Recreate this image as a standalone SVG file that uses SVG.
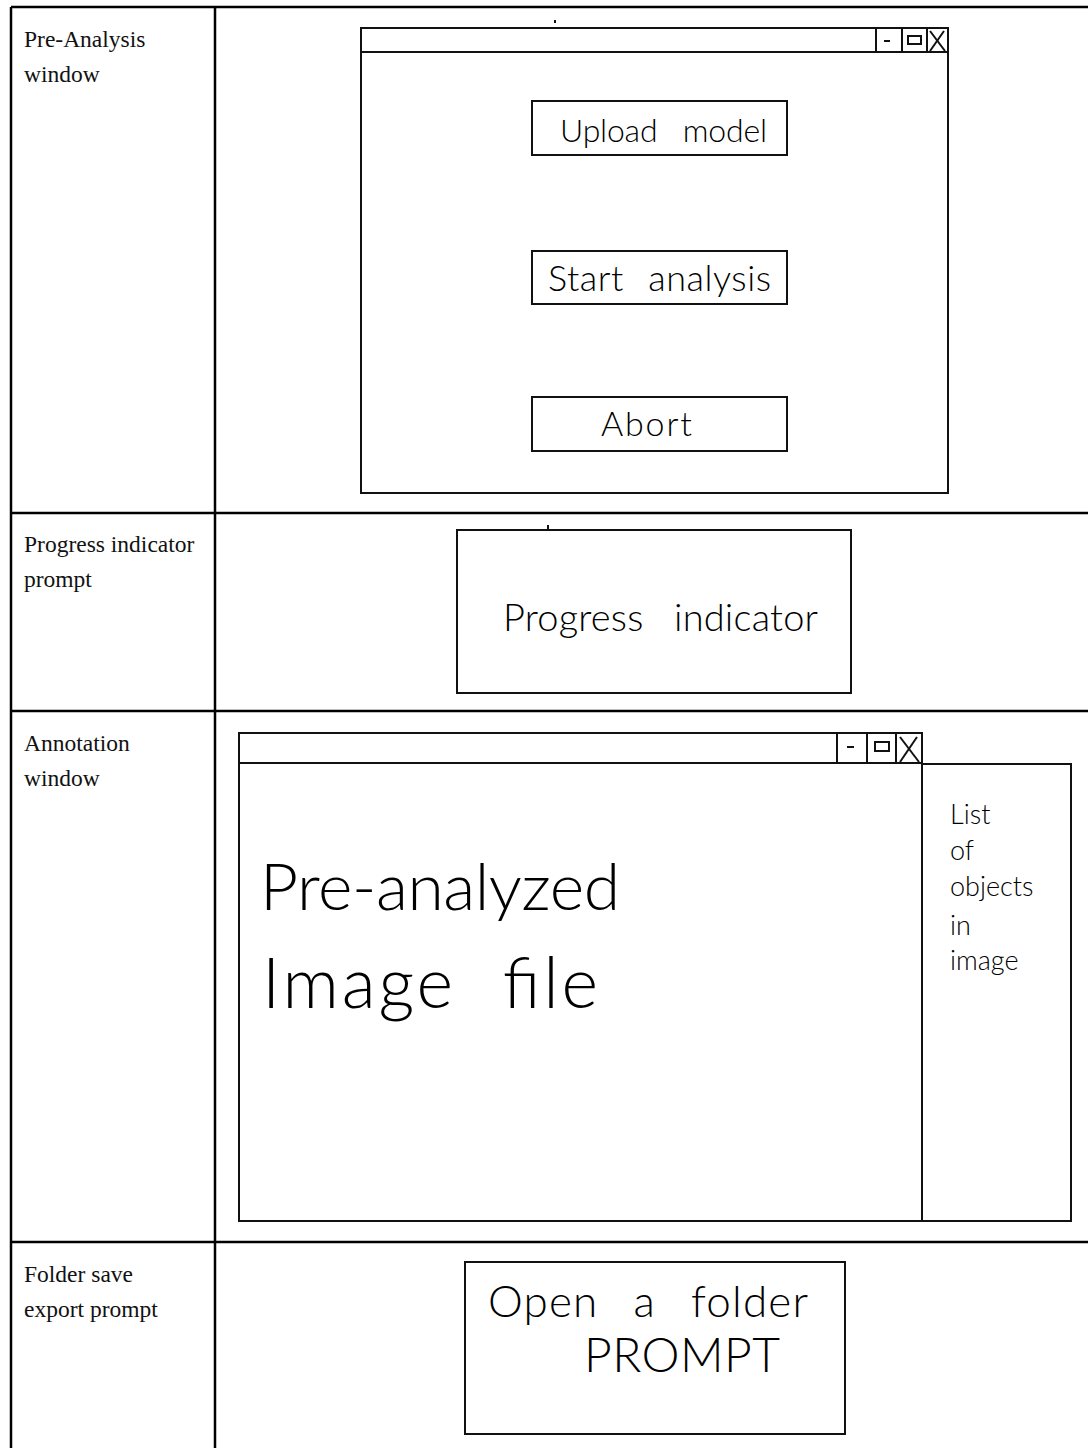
<svg xmlns="http://www.w3.org/2000/svg" width="1088" height="1448" viewBox="0 0 1088 1448">
<style>
.grid{stroke:#000;stroke-width:2.5;fill:none}
.box{stroke:#111;stroke-width:2;fill:none}
.lbl{font-family:"Liberation Serif",serif;font-size:23.5px;fill:#111}
.hw{font-family:"Lato","Noto Sans",sans-serif;font-weight:300;fill:#000}
</style>
<rect width="1088" height="1448" fill="#fff"/>
<g id="table">
<line class="grid" x1="11" y1="7" x2="1088" y2="7"/>
<line class="grid" x1="11" y1="7" x2="11" y2="1448"/>
<line class="grid" x1="215" y1="7" x2="215" y2="1448"/>
<line class="grid" x1="11" y1="513" x2="1088" y2="513"/>
<line class="grid" x1="11" y1="711" x2="1088" y2="711"/>
<line class="grid" x1="11" y1="1242" x2="1088" y2="1242"/>
</g>
<g id="labels">
<text class="lbl" x="24" y="47">Pre-Analysis</text>
<text class="lbl" x="24" y="82">window</text>
<text class="lbl" x="24" y="552">Progress indicator</text>
<text class="lbl" x="24" y="587">prompt</text>
<text class="lbl" x="24" y="751">Annotation</text>
<text class="lbl" x="24" y="786">window</text>
<text class="lbl" x="24" y="1282">Folder save</text>
<text class="lbl" x="24" y="1317">export prompt</text>
</g>
<g id="pre-analysis-window">
<rect class="box" x="361" y="28" width="587" height="465"/>
<line class="box" x1="361" y1="52" x2="948" y2="52"/>
<line class="box" x1="876" y1="28" x2="876" y2="52"/>
<line class="box" x1="902" y1="28" x2="902" y2="52"/>
<line class="box" x1="927" y1="28" x2="927" y2="52"/>
<line class="box" x1="884" y1="41" x2="890" y2="41"/>
<rect class="box" x="908" y="36" width="13" height="8" stroke-width="1.8"/>
<line class="box" x1="930" y1="31" x2="945" y2="51"/>
<line class="box" x1="944" y1="31" x2="930" y2="51"/>
<line class="box" x1="555" y1="20" x2="555" y2="23"/>
</g>
<g id="btn-upload">
<rect class="box" x="532" y="101" width="255" height="54"/>
<text class="hw" x="560" y="142" font-size="32" word-spacing="17" textLength="207" lengthAdjust="spacing">Upload model</text>
</g>
<g id="btn-start">
<rect class="box" x="532" y="251" width="255" height="53"/>
<text class="hw" x="548" y="291" font-size="36" word-spacing="14" textLength="223" lengthAdjust="spacing">Start analysis</text>
</g>
<g id="btn-abort">
<rect class="box" x="532" y="397" width="255" height="54"/>
<text class="hw" x="601" y="436" font-size="34" textLength="91" lengthAdjust="spacing">Abort</text>
</g>
<g id="progress-prompt">
<rect class="box" x="457" y="530" width="394" height="163"/>
<line class="box" x1="548" y1="525" x2="548" y2="529"/>
<text class="hw" x="503" y="631" font-size="38" word-spacing="20" textLength="315" lengthAdjust="spacing">Progress indicator</text>
</g>
<g id="annotation-window">
<rect class="box" x="239" y="733" width="683" height="488"/>
<line class="box" x1="239" y1="763" x2="922" y2="763"/>
<line class="box" x1="837" y1="733" x2="837" y2="763"/>
<line class="box" x1="867" y1="733" x2="867" y2="763"/>
<line class="box" x1="896" y1="733" x2="896" y2="763"/>
<line class="box" x1="847" y1="747" x2="854" y2="747"/>
<rect class="box" x="875" y="742" width="14" height="9" stroke-width="1.8"/>
<line class="box" x1="900" y1="737" x2="919" y2="762"/>
<line class="box" x1="917" y1="737" x2="900" y2="762"/>
<text class="hw" x="260" y="910" font-size="66" textLength="360" lengthAdjust="spacing">Pre-analyzed</text>
<text class="hw" x="262" y="1008" font-size="70" word-spacing="25" textLength="336" lengthAdjust="spacing">Image file</text>
</g>
<g id="object-list">
<rect class="box" x="922" y="764" width="149" height="457"/>
<text class="hw" font-size="27">
<tspan x="950" y="824">List</tspan>
<tspan x="950" y="860">of</tspan>
<tspan x="950" y="896">objects</tspan>
<tspan x="950" y="935">in</tspan>
<tspan x="950" y="970">image</tspan>
</text>
</g>
<g id="folder-prompt">
<rect class="box" x="465" y="1262" width="380" height="172"/>
<text class="hw" x="488" y="1317" font-size="44" word-spacing="22" textLength="320" lengthAdjust="spacing">Open a folder</text>
<text class="hw" x="584" y="1372" font-size="48" textLength="196" lengthAdjust="spacing">PROMPT</text>
</g>
<g id="connectors"></g>
</svg>
